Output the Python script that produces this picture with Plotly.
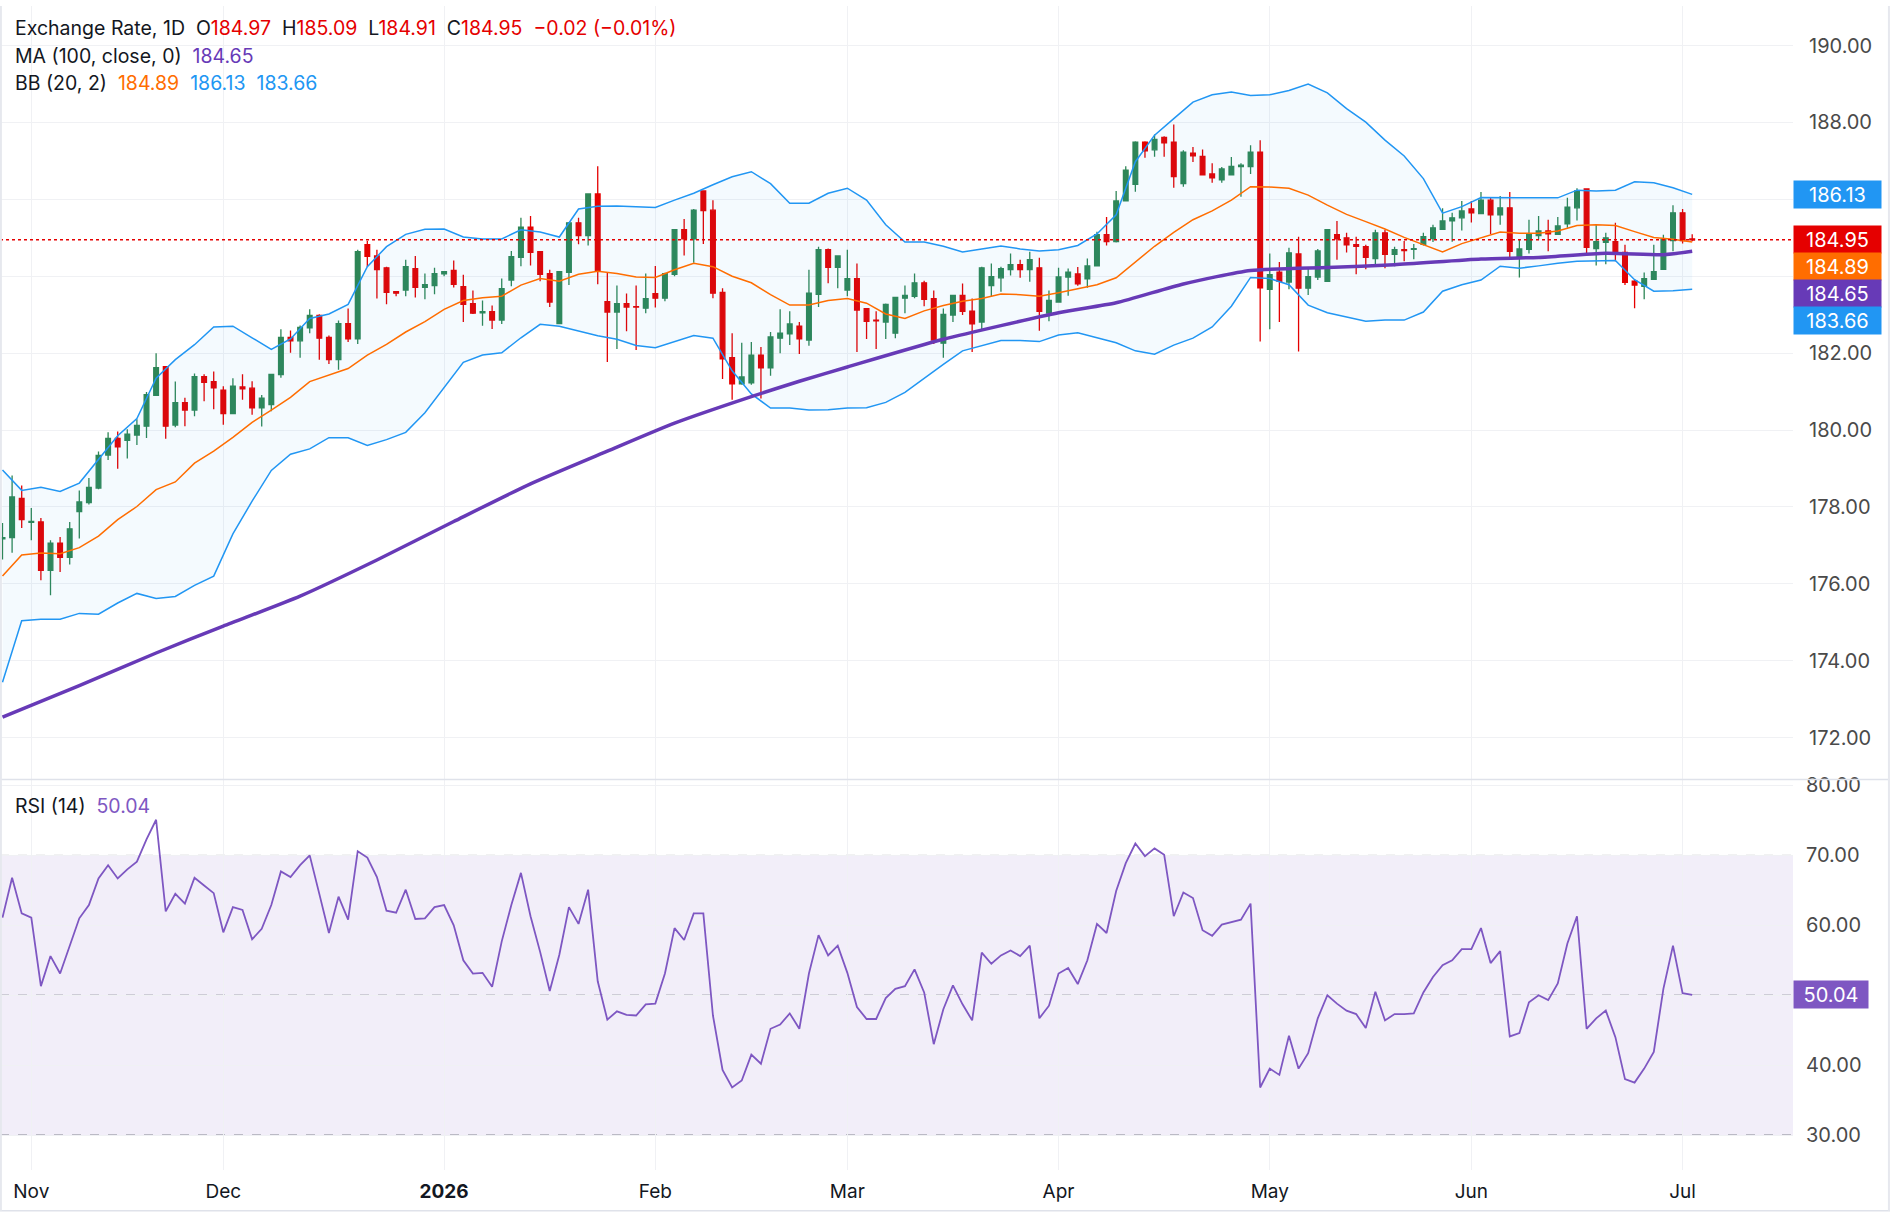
import pandas as pd
import plotly.graph_objects as go

# ---------------- data ----------------
dates = pd.bdate_range("2025-10-29", "2026-07-02").strftime("%Y-%m-%d").tolist()

open_ = [177.17, 177.20, 178.22,
         177.60, 177.61, 176.35, 177.06, 176.69, 177.88, 178.11, 178.49, 179.35, 179.78, 179.73, 179.87, 180.10, 180.90, 181.65, 180.13, 180.71, 180.52, 181.39, 181.26,
         181.04, 180.43, 181.12, 181.09, 180.58, 180.66, 181.44, 182.41, 182.32, 182.66, 182.98, 182.41, 181.83, 182.77, 182.37, 184.82, 184.53, 184.22, 183.60, 183.64, 184.20, 183.71, 183.76,
         184.06, 184.15, 183.73, 183.29, 183.05, 183.08, 182.86, 183.90, 184.49, 185.28, 184.64, 184.07, 182.77, 184.10, 185.39, 185.06, 186.14, 183.34, 183.07, 183.29, 183.21, 183.17,
         183.55, 183.43, 184.05, 185.21, 184.97, 186.22, 185.72, 183.58, 181.88, 181.20, 181.23, 181.95, 181.62, 182.39, 182.50, 182.70, 182.34, 183.53, 184.69, 184.23,
         183.64, 183.94, 183.16, 182.86, 182.81, 182.52, 183.43, 183.48, 183.83, 183.42, 182.26, 182.99, 183.50, 183.09, 182.81, 183.76, 183.96, 184.17, 184.30, 184.17, 184.22, 183.04,
         183.33, 183.98, 184.06, 183.93, 184.27, 185.08, 184.90, 185.96, 186.39, 187.49, 187.29, 187.61, 187.49, 186.41, 187.20, 187.12, 186.66, 186.51, 186.64, 186.85, 186.85, 187.23,
         183.66, 184.11, 183.85, 184.58, 183.69, 183.98, 183.87, 185.08, 185.00, 184.82, 184.77, 184.46, 185.13, 184.57, 184.69, 184.70, 184.83, 184.98, 185.22, 185.44, 185.52,
         185.75, 185.63, 185.98, 185.60, 185.78, 184.52, 184.70, 185.06, 185.18, 185.09, 185.36, 185.78, 186.27, 184.72, 184.88, 184.90, 184.62, 183.87, 183.74, 183.92, 184.18, 184.93,
         185.65, 184.97]

high = [177.58, 178.82, 178.56,
        177.97, 177.71, 177.13, 177.22, 177.61, 178.43, 178.75, 179.44, 179.94, 179.96, 180.02, 180.28, 180.99, 182.00, 181.65, 181.26, 180.84, 181.47, 181.45, 181.52,
        181.14, 181.35, 181.45, 181.27, 180.91, 181.45, 182.62, 182.59, 182.72, 183.14, 183.01, 182.46, 182.85, 183.16, 184.69, 184.92, 184.69, 184.25, 183.60, 184.43, 184.53, 184.07, 184.22,
        184.12, 184.41, 184.04, 183.63, 183.37, 183.24, 183.94, 184.66, 185.52, 185.57, 184.66, 184.17, 184.12, 185.41, 185.52, 186.14, 186.86, 184.10, 183.76, 183.55, 183.76, 184.07,
        184.27, 184.09, 185.23, 185.49, 185.75, 186.22, 185.98, 183.69, 182.52, 182.27, 182.29, 182.16, 182.55, 183.14, 183.09, 182.81, 184.17, 184.77, 184.72, 184.53,
        184.69, 184.33, 183.16, 183.09, 183.29, 183.45, 183.76, 184.07, 183.88, 183.63, 183.16, 183.52, 183.81, 183.42, 184.25, 184.33, 184.25, 184.59, 184.43, 184.64, 184.48, 183.63,
        184.22, 184.20, 184.24, 184.46, 185.16, 185.54, 186.22, 186.86, 187.51, 187.51, 187.69, 187.64, 187.95, 187.28, 187.36, 187.30, 186.94, 186.84, 187.10, 186.94, 187.41, 187.54,
        184.59, 184.37, 184.74, 185.03, 184.23, 184.71, 185.23, 185.44, 185.13, 185.03, 184.82, 185.21, 185.21, 184.77, 184.92, 184.84, 185.13, 185.34, 185.77, 185.65, 185.96,
        185.96, 186.19, 186.04, 186.09, 186.19, 184.97, 185.47, 185.57, 185.47, 185.54, 186.04, 186.29, 186.29, 185.36, 185.13, 185.39, 184.82, 183.92, 184.10, 184.82, 185.08, 185.85,
        185.75, 185.09]

low = [176.63, 176.81, 177.45,
       177.13, 176.09, 175.70, 176.31, 176.50, 177.18, 178.06, 178.46, 179.22, 178.99, 179.26, 179.61, 179.79, 180.90, 179.77, 180.07, 180.10, 180.36, 180.75, 180.54,
       180.14, 180.43, 180.79, 180.40, 180.09, 180.49, 181.36, 182.01, 181.88, 182.52, 181.83, 181.72, 181.57, 182.29, 182.24, 184.24, 183.42, 183.27, 183.48, 183.48, 183.45, 183.40, 183.53,
       184.00, 183.71, 182.81, 183.02, 182.71, 182.63, 182.76, 183.74, 184.26, 184.28, 183.87, 183.20, 182.75, 183.77, 184.83, 184.80, 183.79, 181.77, 182.11, 182.57, 182.08, 183.04,
       183.19, 183.35, 184.00, 184.54, 184.35, 184.84, 183.43, 181.33, 180.79, 181.18, 181.18, 180.82, 181.41, 182.00, 182.21, 181.98, 182.19, 183.20, 183.82, 183.69,
       183.48, 182.03, 182.37, 182.11, 182.37, 182.39, 183.04, 183.43, 183.22, 182.24, 181.88, 182.81, 182.99, 182.03, 182.58, 183.47, 183.60, 184.02, 183.96, 183.86, 182.58, 182.83,
       183.33, 183.49, 183.75, 183.70, 184.27, 184.80, 184.88, 185.96, 186.20, 187.08, 187.11, 187.11, 186.30, 186.33, 186.97, 186.64, 186.43, 186.43, 186.64, 186.07, 186.66, 182.30,
       182.62, 182.81, 183.66, 182.04, 183.51, 183.90, 183.87, 184.43, 184.62, 184.05, 184.18, 184.31, 184.21, 184.26, 184.39, 184.44, 184.80, 184.89, 185.20, 184.90, 185.19,
       185.40, 185.63, 185.10, 185.34, 184.49, 183.97, 184.59, 184.96, 184.65, 185.09, 185.26, 185.45, 184.54, 184.28, 184.31, 184.39, 183.77, 183.17, 183.40, 183.90, 184.18, 184.65,
       184.85, 184.91]

close = [177.20, 178.26, 177.67,
         177.62, 176.35, 177.06, 176.69, 177.43, 178.13, 178.51, 179.34, 179.78, 179.56, 179.89, 180.12, 180.92, 181.62, 180.10, 180.71, 180.52, 181.39, 181.24, 181.10,
         180.43, 181.14, 181.07, 180.58, 180.83, 181.45, 182.41, 182.32, 182.67, 182.98, 182.39, 181.83, 182.77, 182.37, 184.64, 184.52, 184.17, 183.58, 183.56, 184.25, 183.71, 183.78, 184.07,
         184.12, 183.79, 183.27, 183.04, 183.08, 182.86, 183.68, 184.51, 185.28, 184.62, 184.05, 183.33, 184.12, 185.39, 185.06, 186.14, 184.15, 183.07, 183.29, 183.20, 183.20, 183.42,
         183.43, 184.07, 185.21, 184.97, 185.72, 185.71, 183.56, 181.85, 181.20, 181.38, 181.95, 181.62, 182.42, 182.52, 182.76, 182.37, 183.56, 184.69, 184.23, 184.53,
         183.94, 183.12, 182.83, 182.84, 183.27, 183.45, 183.50, 183.83, 183.40, 182.34, 183.01, 183.50, 183.09, 182.76, 184.22, 183.99, 184.20, 184.30, 184.17, 184.43, 183.09, 183.37,
         183.98, 184.11, 183.80, 184.27, 185.08, 184.90, 185.96, 186.76, 187.49, 187.26, 187.56, 187.47, 186.59, 187.23, 187.13, 186.64, 186.56, 186.79, 186.86, 186.89, 187.23, 183.70,
         184.04, 183.87, 184.61, 183.69, 183.99, 184.66, 185.21, 184.97, 184.82, 184.78, 184.49, 185.13, 184.57, 184.69, 184.67, 184.72, 185.03, 185.26, 185.44, 185.52, 185.70,
         185.65, 185.98, 185.60, 185.78, 184.65, 184.71, 185.08, 185.18, 185.10, 185.31, 185.80, 186.22, 184.75, 184.90, 185.00, 184.59, 183.84, 183.77, 183.94, 184.12, 184.95, 185.65,
         184.93, 184.95]

rsi = [61.1, 66.8, 61.7,
       61.1, 51.3, 55.6, 53.1, 57.2, 61.0, 62.9, 66.7, 68.6, 66.7, 68.0, 69.1, 72.3, 75.1, 62.0, 64.5, 63.1, 66.8, 65.7, 64.6,
       59.0, 62.6, 62.2, 58.0, 59.5, 62.9, 67.7, 66.9, 68.6, 70.0, 64.5, 58.9, 64.1, 60.8, 70.6, 69.7, 66.9, 62.1, 61.8, 65.1, 60.9, 61.0, 62.6,
       62.9, 60.0, 55.0, 53.1, 53.2, 51.2, 57.7, 62.9, 67.5, 61.3, 56.2, 50.6, 55.8, 62.6, 60.2, 65.1, 52.0, 46.5, 47.7, 47.2, 47.1, 48.7,
       48.8, 53.1, 59.6, 57.9, 61.7, 61.7, 47.1, 39.3, 36.8, 37.8, 41.5, 40.2, 45.2, 45.8, 47.4, 45.2, 53.1, 58.6, 55.7, 57.1,
       53.2, 48.3, 46.6, 46.6, 49.6, 50.9, 51.3, 53.7, 50.4, 43.0, 48.0, 51.4, 48.7, 46.4, 56.1, 54.5, 55.7, 56.4, 55.6, 57.1, 46.7, 48.5,
       53.1, 53.9, 51.6, 55.0, 60.2, 58.9, 64.9, 68.9, 71.7, 69.9, 71.0, 70.1, 61.3, 64.7, 63.9, 59.3, 58.5, 60.1, 60.4, 60.8, 63.1, 36.8,
       39.5, 38.6, 44.2, 39.5, 41.7, 46.7, 50.0, 48.8, 47.8, 47.3, 45.3, 50.5, 46.4, 47.3, 47.3, 47.4, 50.4, 52.6, 54.3, 55.0, 56.6,
       56.6, 59.6, 54.6, 56.3, 44.1, 44.6, 49.0, 50.0, 49.3, 51.7, 57.4, 61.3, 45.2, 46.7, 47.8, 44.0, 38.0, 37.5, 39.5, 41.9, 50.9, 57.1,
       50.3, 50.04]

# MA(100) read at selected candles (positions into dates)
ma_pos = [0, 8, 16, 23, 31, 39, 47, 55, 63, 70, 78, 83, 88, 98, 110, 116, 123, 130, 138, 145, 154, 160, 167, 173, 176]
ma_val = [172.53, 173.35, 174.20, 174.90, 175.68, 176.62, 177.62, 178.60, 179.45, 180.18, 180.87, 181.27, 181.64, 182.36,
          183.05, 183.31, 183.80, 184.15, 184.23, 184.30, 184.45, 184.49, 184.60, 184.56, 184.65]

# Bollinger bands (20, 2) read every second candle
bb_pos = list(range(0, 177, 2))
bb_up = [178.96, 178.43, 178.51, 178.40, 178.62, 179.25, 179.85, 180.30, 181.35, 181.83, 182.22, 182.68,
         182.70, 182.40, 182.10, 182.37, 182.90, 183.02, 183.27, 184.25, 184.77, 185.09, 185.22,
         185.23, 185.02, 184.97, 184.97, 185.21, 185.15, 185.02, 185.75, 185.82, 185.83, 185.81,
         185.79, 185.98, 186.16, 186.38, 186.59, 186.72, 186.41, 185.90, 185.90, 186.16, 186.29,
         185.98, 185.34, 184.89, 184.89, 184.78, 184.63, 184.71, 184.79, 184.71, 184.66, 184.69,
         184.80, 185.10, 185.60, 186.98, 187.67, 188.10, 188.53, 188.72, 188.79, 188.70, 188.72,
         188.83, 189.00, 188.77, 188.36, 188.01, 187.54, 187.13, 186.54, 185.64, 185.81, 186.05,
         186.04, 186.04, 186.04, 186.04, 186.24, 186.22, 186.24, 186.46, 186.43, 186.30, 186.13]
bb_mid = [176.20, 176.75, 176.80, 176.78, 176.94, 177.24, 177.67, 178.01, 178.45, 178.65, 179.14, 179.45,
          179.81, 180.20, 180.52, 180.85, 181.26, 181.44, 181.60, 181.95, 182.23, 182.55, 182.82,
          183.14, 183.37, 183.44, 183.48, 183.77, 183.94, 183.87, 184.05, 184.13, 184.07, 183.98,
          183.97, 184.17, 184.34, 184.25, 184.00, 183.83, 183.52, 183.25, 183.25, 183.37, 183.42,
          183.30, 183.02, 182.90, 183.10, 183.24, 183.35, 183.42, 183.54, 183.52, 183.48, 183.57,
          183.67, 183.78, 183.96, 184.36, 184.78, 185.14, 185.47, 185.70, 185.98, 186.33, 186.32,
          186.29, 186.11, 185.85, 185.61, 185.42, 185.23, 185.01, 184.82, 184.63, 184.85, 184.99,
          185.15, 185.12, 185.12, 185.18, 185.32, 185.34, 185.32, 185.16, 185.01, 184.96, 184.89]
bb_lo = [173.44, 175.04, 175.08, 175.08, 175.23, 175.21, 175.50, 175.75, 175.62, 175.67, 175.96, 176.20,
         177.30, 178.15, 178.95, 179.37, 179.51, 179.80, 179.80, 179.60, 179.75, 179.94, 180.45,
         181.11, 181.76, 181.95, 182.01, 182.40, 182.75, 182.70, 182.58, 182.45, 182.36, 182.20,
         182.14, 182.30, 182.46, 182.39, 181.54, 180.94, 180.57, 180.57, 180.52, 180.53, 180.57,
         180.58, 180.72, 180.98, 181.35, 181.71, 182.06, 182.19, 182.33, 182.33, 182.30, 182.47,
         182.53, 182.40, 182.27, 182.06, 181.97, 182.21, 182.39, 182.68, 183.22, 183.97, 183.94,
         183.78, 183.25, 183.05, 182.94, 182.83, 182.86, 182.86, 183.07, 183.61, 183.78, 183.90,
         184.26, 184.21, 184.27, 184.34, 184.39, 184.40, 184.41, 183.91, 183.61, 183.62, 183.66]

price_ticks = [172, 174, 176, 178, 180, 182, 184, 186, 188, 190]
rsi_ticks = [30, 40, 50, 60, 70, 80]
month_ticks = ["2025-11-03", "2025-12-01", "2026-01-01", "2026-02-02", "2026-03-02",
               "2026-04-01", "2026-05-01", "2026-06-01", "2026-07-01"]
month_text = ["Nov", "Dec", "<b>2026</b>", "Feb", "Mar", "Apr", "May", "Jun", "Jul"]

# ---------------- styling ----------------
GREEN = "#2e8656"
RED = "#e50000"
BLUE = "#2196f3"
ORANGE = "#ff6d00"
MA_C = "#673ab7"
RSI_C = "#7e57c2"
GRID = "#f0f1f4"
TXT = "#131722"
FONT = "Inter, Roboto, 'Open Sans', sans-serif"
FS_LEG = 19.5
FS_Y = 20
FS_X = 19
PX_PER_UNIT = 38.64          # main pane pixels per price unit (for label stacking)
BOX_H = 27

ma_x = [dates[i] for i in ma_pos]
bb_x = [dates[i] for i in bb_pos]

fig = go.Figure()

fig.add_trace(go.Scatter(x=bb_x, y=bb_up, mode="lines", line=dict(color=BLUE, width=1.5),
                         xaxis="x", yaxis="y", showlegend=False, hoverinfo="skip"))
fig.add_trace(go.Scatter(x=bb_x, y=bb_lo, mode="lines", line=dict(color=BLUE, width=1.5),
                         fill="tonexty", fillcolor="rgba(33,150,243,0.05)",
                         xaxis="x", yaxis="y", showlegend=False, hoverinfo="skip"))
fig.add_trace(go.Scatter(x=bb_x, y=bb_mid, mode="lines", line=dict(color=ORANGE, width=1.5),
                         xaxis="x", yaxis="y", showlegend=False, hoverinfo="skip"))
fig.add_trace(go.Scatter(x=ma_x, y=ma_val, mode="lines", line=dict(color=MA_C, width=3.5, shape="spline", smoothing=0.6),
                         xaxis="x", yaxis="y", showlegend=False, hoverinfo="skip"))
fig.add_trace(go.Candlestick(x=dates, open=open_, high=high, low=low, close=close,
                             increasing=dict(line=dict(color=GREEN, width=1.3), fillcolor=GREEN),
                             decreasing=dict(line=dict(color=RED, width=1.3), fillcolor=RED),
                             whiskerwidth=0, xaxis="x", yaxis="y", showlegend=False))
fig.add_trace(go.Scatter(x=dates, y=rsi, mode="lines", line=dict(color=RSI_C, width=1.8),
                         xaxis="x2", yaxis="y2", showlegend=False, hoverinfo="skip"))

# ---------------- right-side value boxes (stacked so they do not overlap) ----------------
box_specs = sorted([(bb_up[-1], BLUE), (close[-1], RED), (bb_mid[-1], ORANGE), (ma_val[-1], MA_C), (bb_lo[-1], BLUE)],
                   key=lambda t: -t[0])
gap = BOX_H / PX_PER_UNIT
boxes = []
prev = None
for v, c in box_specs:
    pos = v if prev is None else min(v, prev - gap)
    prev = pos
    boxes.append((v, pos, c))

# tick labels hidden behind the value boxes (as in the reference)
def tick_label(t):
    for _, pos, _ in boxes:
        if abs(t - pos) < gap * 0.5 + 0.25:
            return ""
    return f"{t:.2f}"
price_text = [tick_label(t) for t in price_ticks]
rsi_text = ["" if abs(t - rsi[-1]) < 3 else f"{t:.2f}" for t in rsi_ticks]

MAIN_BOTTOM = 0.3355
xcommon = dict(type="category", categoryorder="array", categoryarray=dates,
               range=[-0.26, 186.5], tickvals=month_ticks, showgrid=True, gridcolor=GRID,
               gridwidth=1, zeroline=False, showline=False, ticks="")

fig.update_layout(
    width=1890, height=1223,
    margin=dict(l=0, r=97, t=0, b=53),
    paper_bgcolor="white", plot_bgcolor="white",
    font=dict(family=FONT, size=FS_LEG, color=TXT),
    showlegend=False,
    xaxis=dict(**xcommon, domain=[0, 1], anchor="y", showticklabels=False,
               rangeslider=dict(visible=False)),
    xaxis2=dict(**xcommon, domain=[0, 1], anchor="y2", matches="x", ticktext=month_text,
                showticklabels=True, tickfont=dict(size=FS_X, color=TXT), ticklabelstandoff=8),
    yaxis=dict(domain=[MAIN_BOTTOM, 1], range=[170.91, 191.03], side="right",
               tickvals=price_ticks, ticktext=price_text, showgrid=True,
               gridcolor=GRID, zeroline=False, ticks="", ticklabelstandoff=15,
               tickfont=dict(size=FS_Y, color="#4a4a4a")),
    yaxis2=dict(domain=[0, MAIN_BOTTOM], range=[25, 80.86], side="right",
                tickvals=rsi_ticks, ticktext=rsi_text, showgrid=True,
                gridcolor=GRID, zeroline=False, ticks="", ticklabelstandoff=12,
                tickfont=dict(size=FS_Y, color="#4a4a4a")),
)

shapes = []
shapes.append(dict(type="rect", xref="paper", yref="y2", x0=0, x1=1, y0=30, y1=70,
                   fillcolor="rgba(126,87,194,0.1)", line=dict(width=0), layer="below"))
for lvl in (30, 50, 70):
    shapes.append(dict(type="line", xref="paper", yref="y2", x0=0, x1=1, y0=lvl, y1=lvl,
                       line=dict(color="#787b86", width=1, dash="dash"), layer="below"))
shapes.append(dict(type="line", xref="paper", yref="y", x0=0, x1=1, y0=close[-1], y1=close[-1],
                   line=dict(color=RED, width=1.5, dash="dot")))
shapes.append(dict(type="line", xref="paper", yref="paper", x0=0, x1=1.06, y0=MAIN_BOTTOM, y1=MAIN_BOTTOM,
                   line=dict(color="#dfe2ea", width=1.5)))
shapes.append(dict(type="line", xref="paper", yref="paper", x0=0, x1=1.06, y0=-0.035, y1=-0.035,
                   line=dict(color="#dfe2ea", width=1.5)))
shapes.append(dict(type="line", xref="paper", yref="paper", x0=0.0005, x1=0.0005, y0=-0.035, y1=1,
                   line=dict(color="#e6e8ee", width=2)))
shapes.append(dict(type="line", xref="paper", yref="paper", x0=1.0535, x1=1.0535, y0=-0.035, y1=1,
                   line=dict(color="#e6e8ee", width=2)))
fig.update_layout(shapes=shapes)

# ---------------- annotations ----------------
ann = []
def sp(c, t):
    return f"<span style='color:{c}'>{t}</span>"

def legend_line(text, ypx):
    ann.append(dict(xref="paper", yref="paper", x=0, y=1 - ypx / 1170, xanchor="left", yanchor="middle",
                    xshift=13, text=text, showarrow=False, font=dict(size=FS_LEG, color=TXT), align="left"))

S = "&nbsp;&nbsp;"
ohlc = (f"O{sp(RED, f'{open_[-1]:.2f}')}{S}H{sp(RED, f'{high[-1]:.2f}')}{S}"
        f"L{sp(RED, f'{low[-1]:.2f}')}{S}C{sp(RED, f'{close[-1]:.2f}')}{S}"
        + sp(RED, "\u22120.02 (\u22120.01%)"))
legend_line("Exchange Rate, 1D" + S + ohlc, 22)
legend_line("MA (100, close, 0)" + S + sp(MA_C, f"{ma_val[-1]:.2f}"), 50)
legend_line("BB (20, 2)" + S + sp(ORANGE, f"{bb_mid[-1]:.2f}") + S + sp(BLUE, f"{bb_up[-1]:.2f}") + S + sp(BLUE, f"{bb_lo[-1]:.2f}"), 77)
ann.append(dict(xref="paper", yref="paper", x=0, y=1 - 804 / 1170, xanchor="left", yanchor="middle",
                xshift=13, text="RSI (14)" + S + sp(RSI_C, f"{rsi[-1]:.2f}"), showarrow=False,
                font=dict(size=FS_LEG, color=TXT)))

for v, pos, c in boxes:
    ann.append(dict(xref="paper", yref="y", x=1, y=pos, xanchor="left", yanchor="middle",
                    text=f"{v:.2f}", showarrow=False, bgcolor=c, width=83, height=23, borderpad=2,
                    font=dict(size=FS_Y, color="white")))
ann.append(dict(xref="paper", yref="y2", x=1, y=rsi[-1], xanchor="left", yanchor="middle",
                text=f"{rsi[-1]:.2f}", showarrow=False, bgcolor=RSI_C, width=70, height=23, borderpad=2,
                font=dict(size=FS_Y, color="white")))
fig.update_layout(annotations=ann)

fig.write_html("out.html")
